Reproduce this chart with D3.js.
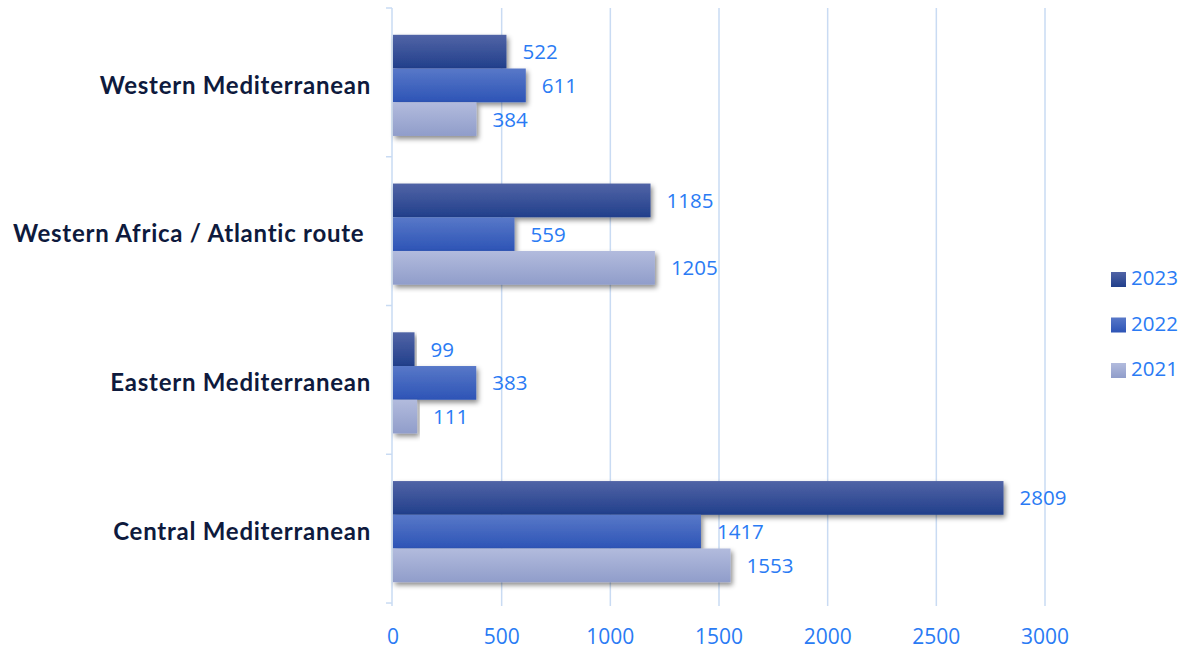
<!DOCTYPE html>
<html>
<head>
<meta charset="utf-8">
<script src="https://cdn.jsdelivr.net/npm/d3@7"></script>
<style>
  html, body { margin: 0; padding: 0; background: #ffffff; }
  svg { display: block; }
</style>
</head>
<body>
<svg id="chart" width="1183" height="650"></svg>
<script>
// Routes (top to bottom) and yearly values per route
const routes = ["Western Mediterranean", "Western Africa / Atlantic route ", "Eastern Mediterranean", "Central Mediterranean"];
const years = ["2023", "2022", "2021"];
const values2023 = [522, 1185, 99, 2809];
const values2022 = [611, 559, 383, 1417];
const values2021 = [384, 1205, 111, 1553];
const xTicks = [0, 500, 1000, 1500, 2000, 2500, 3000];

const seriesValues = { "2023": values2023, "2022": values2022, "2021": values2021 };

const svg = d3.select("#chart");
const margin = { left: 393, right: 138, top: 8, bottom: 44 };
const W = 1183, H = 650;

const x = d3.scaleLinear().domain([0, 3000]).range([margin.left, W - margin.right]);
const y = d3.scaleBand().domain(routes).range([margin.top, H - margin.bottom])
  .paddingInner(0.32).paddingOuter(0.17);
const ySub = d3.scaleBand().domain(years).range([0, y.bandwidth()]).padding(0);
const groupShift = 1.5;

const gradients = {
  "2023": ["#5164a6", "#213f8b"],
  "2022": ["#5878c8", "#2d54b6"],
  "2021": ["#b2bbdd", "#909dca"]
};

const defs = svg.append("defs");
years.forEach(yr => {
  const g = defs.append("linearGradient").attr("id", "grad" + yr)
    .attr("x1", 0).attr("y1", 0).attr("x2", 0).attr("y2", 1);
  g.append("stop").attr("offset", "0%").attr("stop-color", gradients[yr][0]);
  g.append("stop").attr("offset", "100%").attr("stop-color", gradients[yr][1]);
});
const shadow = defs.append("filter").attr("id", "shadow")
  .attr("x", "-5%").attr("y", "-20%").attr("width", "115%").attr("height", "160%");
shadow.append("feDropShadow").attr("dx", 2).attr("dy", 3).attr("stdDeviation", 2.5)
  .attr("flood-color", "#000").attr("flood-opacity", 0.45);

const gridColor = "#c9dbf3";
const textBlue = "#2a7bf4";
const numFont = "Open Sans, sans-serif";

// vertical gridlines
svg.append("g").selectAll("line").data(xTicks.slice(1)).join("line")
  .attr("x1", d => x(d)).attr("x2", d => x(d))
  .attr("y1", margin.top).attr("y2", H - margin.bottom)
  .attr("stroke", gridColor).attr("stroke-width", 1.5);

// category axis with tick marks between groups
const yAxisX = x(0) - 1;
svg.append("line").attr("x1", yAxisX).attr("x2", yAxisX)
  .attr("y1", margin.top).attr("y2", H - margin.bottom)
  .attr("stroke", gridColor).attr("stroke-width", 1.5);
const boundaries = d3.range(routes.length + 1).map(i => margin.top + i * y.step());
svg.append("g").selectAll("line").data(boundaries).join("line")
  .attr("x1", yAxisX - 6).attr("x2", yAxisX)
  .attr("y1", d => d).attr("y2", d => d)
  .attr("stroke", gridColor).attr("stroke-width", 1.5);

// x tick labels
svg.append("g").selectAll("text").data(xTicks).join("text")
  .attr("x", d => x(d)).attr("y", 638)
  .attr("text-anchor", "middle").attr("dominant-baseline", "middle")
  .attr("font-family", numFont).attr("font-size", 21)
  .attr("fill", textBlue).text(d => d);

// bars
const groups = svg.append("g").selectAll("g").data(routes).join("g")
  .attr("transform", d => `translate(0,${y(d) + groupShift})`);

years.forEach(yr => {
  groups.append("rect")
    .attr("x", x(0))
    .attr("y", ySub(yr))
    .attr("width", (d, i) => x(seriesValues[yr][i]) - x(0))
    .attr("height", ySub.bandwidth())
    .attr("fill", `url(#grad${yr})`)
    .attr("filter", "url(#shadow)");
});

years.forEach(yr => {
  groups.append("text")
    .attr("x", (d, i) => x(seriesValues[yr][i]) + 16)
    .attr("y", ySub(yr) + ySub.bandwidth() / 2 + 2)
    .attr("dominant-baseline", "middle")
    .attr("font-family", numFont).attr("font-size", 20.5)
    .attr("fill", textBlue)
    .text((d, i) => seriesValues[yr][i]);
});

// category labels
svg.append("g").selectAll("text").data(routes).join("text")
  .attr("x", 371).attr("y", d => y(d) + y.bandwidth() / 2 + groupShift + 2)
  .attr("text-anchor", "end").attr("dominant-baseline", "middle")
  .style("white-space", "pre")
  .attr("font-family", "Lato, sans-serif").attr("font-weight", 700).attr("font-size", 24)
  .attr("letter-spacing", 0.75)
  .attr("fill", "#0e1a3d")
  .text(d => d);

// legend
const legend = svg.append("g").selectAll("g").data(years).join("g")
  .attr("transform", (d, i) => `translate(1111,${279 + i * 45.5})`);
legend.append("rect").attr("x", 0).attr("y", -7).attr("width", 15).attr("height", 15)
  .attr("fill", d => `url(#grad${d})`);
legend.append("text").attr("x", 20).attr("y", 1)
  .attr("dominant-baseline", "middle")
  .attr("font-family", numFont).attr("font-size", 20.5)
  .attr("fill", textBlue).text(d => d);
</script>
</body>
</html>
